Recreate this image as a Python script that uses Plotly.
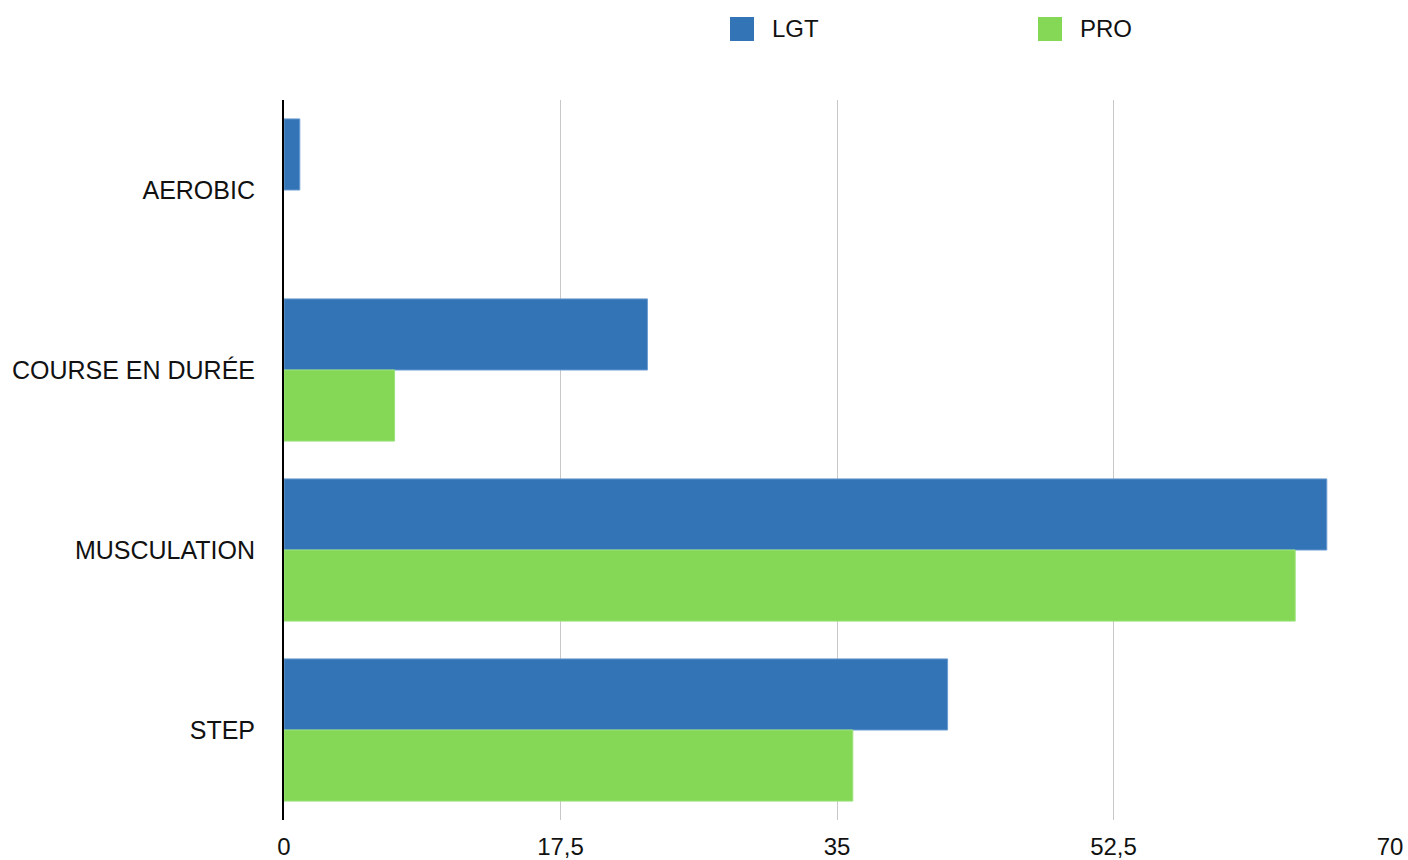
import plotly.graph_objects as go

categories = ["AEROBIC", "COURSE EN DURÉE", "MUSCULATION", "STEP"]
series_names = ["LGT", "PRO"]
lgt_values = [1, 23, 66, 42]
pro_values = [0, 7, 64, 36]
x_ticks = [0, 17.5, 35, 52.5, 70]

colors = {"LGT": "#3274b5", "PRO": "#84d855"}
edge = {"LGT": "#6b9bd2", "PRO": "#9be27a"}

FIG_W, FIG_H = 1408, 860
L, R, T, B = 284, 1390, 100, 820
W, H = R - L, B - T

fig = go.Figure()
for name, vals in zip(series_names, [lgt_values, pro_values]):
    fig.add_trace(go.Bar(
        y=categories, x=vals, name=name, orientation="h",
        marker=dict(color=colors[name],
                    line=dict(color=edge[name], width=[0 if v == 0 else 1 for v in vals])),
        showlegend=False,
    ))

# Manual legend (large square swatches)
legend_items = [("LGT", 730), ("PRO", 1038)]
for name, px in legend_items:
    fig.add_shape(type="rect", xref="paper", yref="paper",
                  x0=(px - L) / W, x1=(px + 24 - L) / W,
                  y0=(B - 41) / H, y1=(B - 17) / H,
                  fillcolor=colors[name], line=dict(width=0))
    fig.add_annotation(xref="paper", yref="paper", x=(px + 40 - L) / W, y=(B - 29) / H,
                       text=name, showarrow=False, xanchor="left", yanchor="middle",
                       font=dict(size=24, color="#111111"))

fig.update_layout(
    width=FIG_W, height=FIG_H,
    margin=dict(l=L, r=FIG_W - R, t=T, b=FIG_H - B, autoexpand=False),
    paper_bgcolor="white", plot_bgcolor="white",
    barmode="group", bargap=0.21, bargroupgap=0,
    separators=", ",
    font=dict(family="Liberation Sans, Arial, Helvetica, sans-serif", size=24, color="#111111"),
)
fig.update_xaxes(
    range=[0, 70], tickvals=x_ticks, showgrid=True, gridcolor="#c8c8c8", gridwidth=1,
    zeroline=False, showline=False, ticks="", ticklabelstandoff=10,
    tickfont=dict(size=24), automargin=False,
)
fig.update_yaxes(
    autorange="reversed", showgrid=False, zeroline=False,
    showline=True, linecolor="black", linewidth=2, ticks="",
    ticklabelstandoff=22, tickfont=dict(size=25), automargin=False,
)

fig.write_html(
    "out.html",
    config={"displayModeBar": False},
    post_script="document.body.style.margin='0';document.body.style.overflow='hidden';",
)
